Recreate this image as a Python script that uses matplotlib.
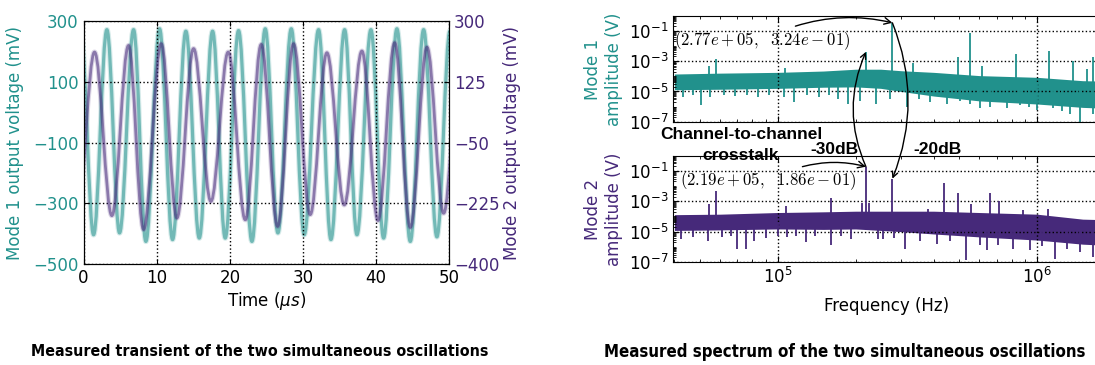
import numpy as np
import matplotlib
matplotlib.use('Agg')
import matplotlib.pyplot as plt
from matplotlib.path import Path
from matplotlib.patches import PathPatch
from matplotlib.ticker import LogLocator, NullFormatter

TEAL = '#21918c'
PURPLE = '#46297a'

# transient: successive extrema of each oscillation (time in us, voltage in mV)
mode1_t = [-0.40, 1.37, 3.19, 4.92, 6.84, 8.52, 10.39, 12.17, 13.99, 15.82,
           17.64, 19.37, 21.19, 23.02, 24.84, 26.57, 28.40, 30.17, 32.13,
           33.82, 35.69, 37.38, 39.29, 41.02, 42.84, 44.67, 46.49, 48.31, 50.10]
mode1_v = [272, -404, 272, -398, 272, -426, 275, -420, 267, -415,
           267, -415, 269, -426, 275, -398, 275, -404, 272,
           -420, 272, -404, 272, -415, 275, -426, 272, -411, 268]
mode2_t = [-0.85, 1.50, 3.87, 6.15, 8.20, 10.62, 12.76, 15.04, 17.41, 19.78,
           22.11, 24.29, 26.53, 28.71, 30.99, 33.27, 35.64, 38.06, 40.25,
           42.53, 44.67, 46.95, 49.23, 51.50]
mode2_v = [-250, 211, -261, 230, -301, 235, -268, 221, -220, 211,
           -273, 233, -292, 235, -258, 209, -230, 214, -275,
           238, -295, 225, -254, 220]

# spectrum: noise floor envelope (Hz, V)
floor_f = [4e4, 6e4, 1e5, 1.5e5, 2e5, 2.5e5, 3e5, 4e5, 6e5, 1e6, 1.5e6, 2.2e6]
mode1_hi = [1.4e-4, 1.6e-4, 1.8e-4, 2.2e-4, 2.9e-4, 2.9e-4, 2.3e-4, 1.8e-4,
            1.1e-4, 8.5e-5, 5.1e-5, 4.5e-5]
mode1_lo = [1.3e-5, 1.4e-5, 1.6e-5, 1.9e-5, 2.0e-5, 1.6e-5, 1e-5, 5e-6,
            2.4e-6, 1.5e-6, 9e-7, 7e-7]
mode2_hi = [1.3e-4, 1.4e-4, 1.8e-4, 2.0e-4, 2.2e-4, 2.2e-4, 2.2e-4, 2.2e-4,
            1.8e-4, 1.4e-4, 6.6e-5, 5.6e-5]
mode2_lo = [1.2e-5, 1.3e-5, 1.5e-5, 1.4e-5, 1.5e-5, 1.2e-5, 1e-5, 7e-6,
            4.5e-6, 2.8e-6, 1.5e-6, 1.1e-6]

# spectral lines above the floor (Hz, V)
mode1_peak_f = [5.45e4, 5.78e4, 1.07e5, 2.19e5, 2.77e5, 3.33e5, 4.97e5, 5.54e5,
                6.12e5, 8.3e5, 1.11e6, 1.38e6, 1.56e6, 1.64e6]
mode1_peak_a = [4.8e-4, 1.4e-3, 3.7e-4, 4.0e-3, 3.24e-1, 7.9e-4, 1.9e-3, 6.8e-2,
                4.8e-4, 2.7e-3, 4.4e-3, 1.0e-3, 2.9e-4, 1.8e-3]
mode2_peak_f = [5.45e4, 5.78e4, 1.08e5, 1.61e5, 2.12e5, 2.19e5, 2.26e5, 2.77e5,
                3.8e5, 4.39e5, 4.97e5, 5.56e5, 6.58e5, 7.15e5, 8.8e5, 1.1e6]
mode2_peak_a = [6.2e-4, 4.5e-3, 5.0e-4, 1.6e-3, 8e-4, 1.86e-1, 8e-4, 2.8e-2,
                3.2e-4, 1.5e-2, 3.5e-3, 7e-4, 3.2e-3, 1.0e-3, 2.6e-4, 2.9e-4]

# deep dips below the floor (Hz, V)
mode1_dip_f = [4.30e4, 4.7e4, 5.05e4, 5.51e4, 6.2e4, 6.82e4, 7.6e4, 8.37e4,
               9.3e4, 1.06e5, 1.16e5, 1.3e5, 1.45e5, 1.58e5, 1.71e5, 1.86e5,
               2.07e5, 2.39e5, 2.71e5, 3.15e5, 3.5e5, 3.86e5, 4.50e5, 5.05e5,
               5.5e5, 6.03e5, 6.59e5, 7.66e5, 8.60e5, 9.3e5, 1.0e6, 1.15e6,
               1.25e6, 1.34e6, 1.47e6, 1.64e6]
mode1_dip_a = [4.4e-6, 5.5e-6, 1.3e-6, 4.4e-6, 6e-6, 5.0e-6, 6e-6, 4.4e-6,
               6e-6, 4.4e-6, 2.0e-6, 6e-6, 4.4e-6, 6e-6, 3.4e-6, 1.6e-6,
               2.5e-6, 1.6e-6, 3.4e-6, 1.0e-6, 3e-6, 2.0e-6, 1.6e-6, 2.5e-6,
               1.5e-6, 8e-7, 1.0e-6, 8e-7, 1.3e-6, 9e-7, 6.3e-7, 8e-7,
               5e-7, 3.2e-7, 1.0e-7, 3.2e-7]
mode2_dip_f = [4.24e4, 4.7e4, 5.37e4, 6.13e4, 6.6e4, 7.0e4, 7.54e4, 8.12e4,
               8.99e4, 1.0e5, 1.09e5, 1.18e5, 1.29e5, 1.39e5, 1.61e5, 1.75e5,
               1.92e5, 2.43e5, 2.55e5, 2.8e5, 3.09e5, 3.54e5, 4.1e5, 4.6e5,
               5.32e5, 6.03e5, 6.4e5, 7.1e5, 8.1e5, 9.4e5, 1.05e6, 1.17e6,
               1.3e6, 1.47e6, 1.65e6]
mode2_dip_a = [3.4e-6, 4.4e-6, 2.6e-6, 4.4e-6, 5e-6, 7.6e-7, 7.6e-7, 2.6e-6,
               3.8e-6, 5e-6, 4.4e-6, 5e-6, 2.0e-6, 4.9e-6, 1.3e-6, 5e-6,
               3.4e-6, 3.4e-6, 3.4e-6, 4e-6, 7.6e-7, 2.6e-6, 1.6e-6, 2.5e-6,
               1.35e-7, 1.3e-6, 5.9e-7, 1.3e-6, 7.6e-7, 5.9e-7, 1.2e-6, 1.7e-7,
               7.6e-7, 4.7e-7, 2.2e-7]


def wave_path(t, v, k=0.3634):
    # half-cosine-like cubic segments between successive extrema
    verts, codes = [(t[0], v[0])], [Path.MOVETO]
    for i in range(len(t) - 1):
        dt = t[i + 1] - t[i]
        verts += [(t[i] + k * dt, v[i]), (t[i + 1] - k * dt, v[i + 1]),
                  (t[i + 1], v[i + 1])]
        codes += [Path.CURVE4] * 3
    return Path(verts, codes)


def draw_wave(ax, t, v, color, lw):
    for w, a in [(lw + 1.6, 0.18), (lw, 0.55)]:
        ax.add_patch(PathPatch(wave_path(t, v), fill=False, edgecolor=color,
                               lw=w, alpha=a, capstyle='round',
                               joinstyle='round'))


def draw_spectrum(ax, hi, lo, pk_f, pk_a, dip_f, dip_a, color):
    ax.fill_between(floor_f, lo, hi, color=color, lw=0)
    ax.vlines(pk_f, 3e-5, pk_a, color=color, lw=1.3)
    ax.vlines(dip_f, dip_a, 3e-5, color=color, lw=1.3)
    ax.set_xscale('log')
    ax.set_yscale('log')
    ax.set_xlim(3.95e4, 1.75e6)
    ax.set_ylim(1e-7, 0.9)
    ax.set_yticks([1e-7, 1e-5, 1e-3, 1e-1])
    ax.yaxis.set_minor_locator(LogLocator(base=10, subs=np.arange(1, 10),
                                          numticks=30))
    ax.yaxis.set_minor_formatter(NullFormatter())
    ax.tick_params(which='both', direction='in', top=True, right=True,
                   labelsize=12)
    ax.tick_params(which='major', length=4)
    ax.tick_params(which='minor', length=2)
    ax.grid(True, which='major', ls=':', color='k', lw=1)


fig = plt.figure(figsize=(10.95, 3.65), dpi=100)

# --- transient ---
ax1 = fig.add_axes([0.0763, 0.277, 0.334, 0.665])
ax2 = ax1.twinx()
draw_wave(ax1, mode1_t, mode1_v, TEAL, 2.3)
draw_wave(ax2, mode2_t, mode2_v, PURPLE, 2.0)
ax1.set_xlim(0, 50)
ax1.set_ylim(-500, 300)
ax2.set_ylim(-400, 300)
ax1.set_xticks(range(0, 51, 10))
ax1.set_yticks(range(-500, 301, 200))
ax2.set_yticks(np.linspace(-400, 300, 5))
ax1.grid(True, ls=':', color='k', lw=1)
ax1.tick_params(direction='in', top=True, labelsize=12)
ax1.tick_params(axis='y', labelcolor=TEAL)
ax2.tick_params(direction='in', labelsize=12, labelcolor=PURPLE)
ax1.set_xlabel(r'Time ($\mu s$)', fontsize=12)
ax1.xaxis.set_label_coords(0.5, -0.108)
ax1.set_ylabel('Mode 1 output voltage (mV)', fontsize=12, color=TEAL)
ax1.yaxis.set_label_coords(-0.162, 0.5)
ax2.set_ylabel('Mode 2 output voltage (mV)', fontsize=12, color=PURPLE)
ax2.yaxis.set_label_coords(1.148, 0.5)

# --- spectrum ---
axs1 = fig.add_axes([0.6146, 0.666, 0.390, 0.290])
axs2 = fig.add_axes([0.6146, 0.282, 0.390, 0.290])
draw_spectrum(axs1, mode1_hi, mode1_lo, mode1_peak_f, mode1_peak_a,
              mode1_dip_f, mode1_dip_a, TEAL)
draw_spectrum(axs2, mode2_hi, mode2_lo, mode2_peak_f, mode2_peak_a,
              mode2_dip_f, mode2_dip_a, PURPLE)
axs1.tick_params(labelbottom=False)
axs1.set_ylabel('Mode 1\namplitude (V)', fontsize=12, color=TEAL)
axs1.yaxis.set_label_coords(-0.117, 0.5)
axs2.set_ylabel('Mode 2\namplitude (V)', fontsize=12, color=PURPLE)
axs2.yaxis.set_label_coords(-0.117, 0.5)
axs2.set_xlabel('Frequency (Hz)', fontsize=12)
axs2.xaxis.set_label_coords(0.5, -0.33)

arrow = dict(arrowstyle='->', color='k', lw=1, shrinkA=0, shrinkB=0)
axs1.annotate(r'$(2.77e+05,\ \ 3.24e-01)$', xy=(2.77e5, 0.324),
              xytext=(4.0e4, 0.023), ha='left', va='center', fontsize=12,
              math_fontfamily='cm',
              arrowprops=dict(arrow, relpos=(0.64, 1.0),
                              connectionstyle='arc3,rad=-0.15'))
axs2.annotate(r'$(2.19e+05,\ \ 1.86e-01)$', xy=(2.19e5, 0.186),
              xytext=(4.22e4, 0.0218), ha='left', va='center', fontsize=12,
              math_fontfamily='cm',
              arrowprops=dict(arrow, relpos=(0.64, 1.0),
                              connectionstyle='arc3,rad=-0.15'))
# crosstalk arrows between the two spectra
axs2.annotate('', xy=(2.19e5, 4e-3), xycoords=axs1.transData,
              xytext=(2.19e5, 0.186), textcoords='data',
              arrowprops=dict(arrow, connectionstyle='arc3,rad=-0.22'))
axs2.annotate('', xy=(2.77e5, 0.03), xycoords='data',
              xytext=(2.77e5, 0.324), textcoords=axs1.transData,
              arrowprops=dict(arrow, connectionstyle='arc3,rad=-0.2'))

bold = dict(family=['Liberation Sans', 'DejaVu Sans'], weight='bold',
            fontsize=12.5, ha='center', va='center')
fig.text(741 / 1095, 1 - 145 / 365, 'Channel-to-channel\ncrosstalk',
         linespacing=1.55, **bold)
fig.text(834 / 1095, 1 - 149 / 365, '-30dB', **bold)
fig.text(937 / 1095, 1 - 149 / 365, '-20dB', **bold)

cap = dict(family='DejaVu Sans', stretch='condensed', weight='bold',
           ha='center', va='center')
fig.text(260 / 1095, 1 - 352 / 365,
         'Measured transient of the two simultaneous oscillations',
         fontsize=11.4, **cap)
fig.text(845 / 1095, 1 - 352 / 365,
         'Measured spectrum of the two simultaneous oscillations',
         fontsize=12.1, **cap)

fig.savefig('out.png', dpi=100)
